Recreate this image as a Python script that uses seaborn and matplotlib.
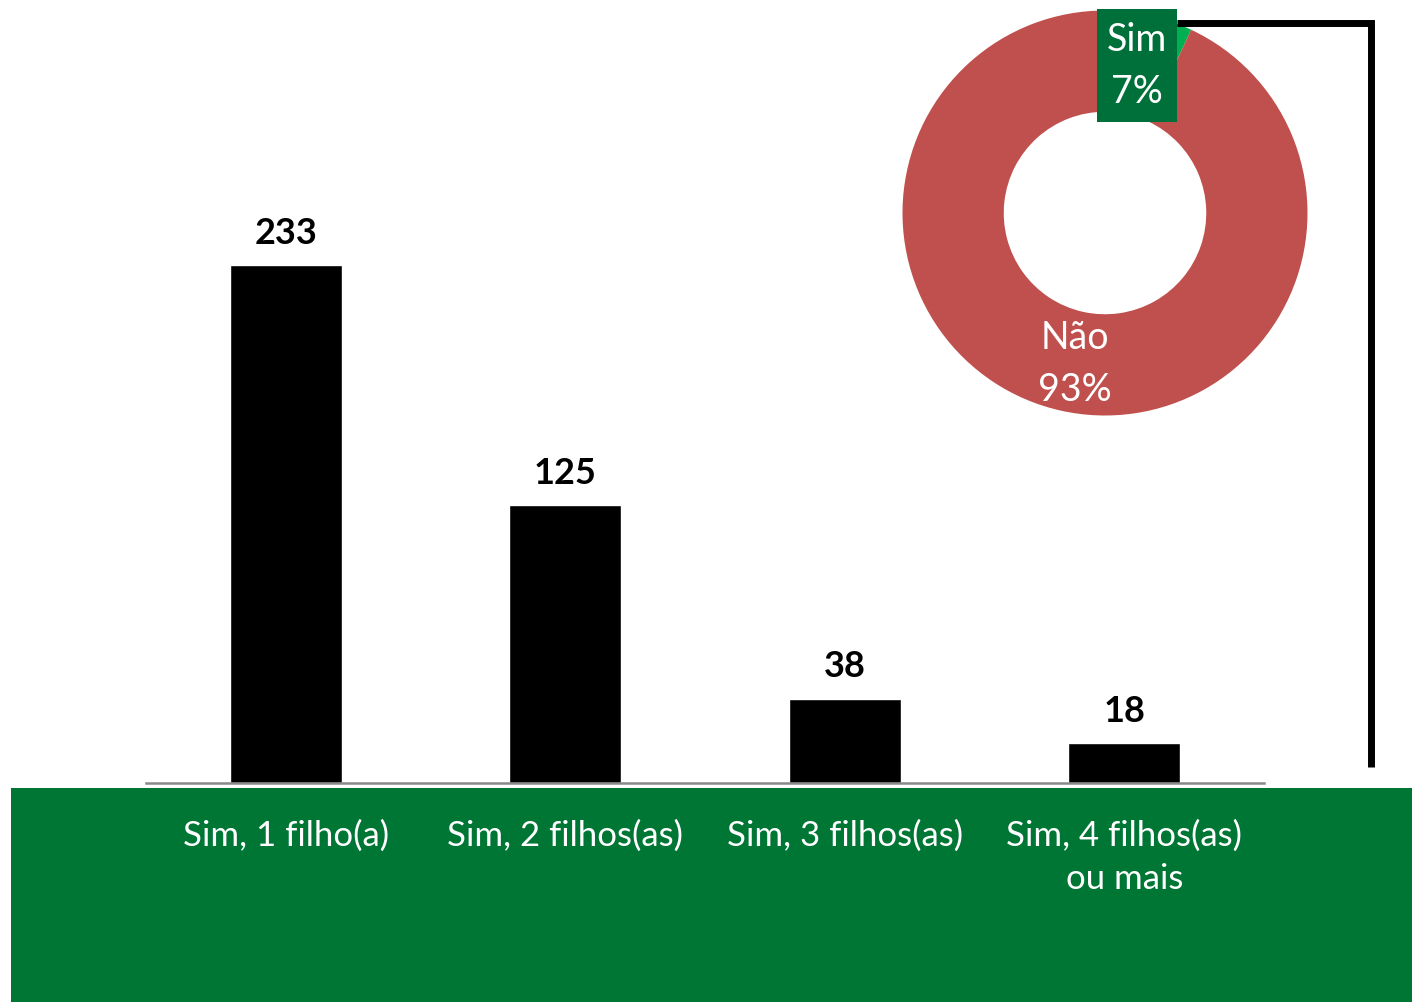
import matplotlib
matplotlib.use("Agg")
import matplotlib.pyplot as plt
import seaborn as sns
import pandas as pd
from matplotlib.patches import Rectangle
from matplotlib.lines import Line2D

categories = ["Sim, 1 filho(a)", "Sim, 2 filhos(as)", "Sim, 3 filhos(as)", "Sim, 4 filhos(as)\nou mais"]
counts = [233, 125, 38, 18]
pie_labels = ["Sim", "Não"]
pie_values = [7, 93]

W, H = 1412, 1002
sns.set_theme(style="white")
plt.rcParams['font.family'] = ['Lato', 'DejaVu Sans']

fig = plt.figure(figsize=(W / 100, H / 100), dpi=100)
fig.patch.set_facecolor("white")

def fx(px):
    return px / W

def fy(py):
    return 1 - py / H

# green band (behind the axes)
fig.patches.append(Rectangle((fx(11), 0), fx(W) - fx(11), fy(788), transform=fig.transFigure,
                             facecolor="#007635", edgecolor="none", zorder=-5))

# bar chart
ax = fig.add_axes([fx(146), fy(783), fx(1264) - fx(146), fy(117) - fy(783)])
ax.set_facecolor("none")
ax.set_zorder(1)
df = pd.DataFrame({"cat": categories, "n": counts})
sns.barplot(data=df, x="cat", y="n", color="black", width=0.4, ax=ax, saturation=1)
ax.set_xlim(-0.5, 3.5)
ax.set_ylim(0, (783 - 117) / 2.223)
for i, v in enumerate(counts):
    ax.annotate(str(v), (i, v), xytext=(0, 11), textcoords="offset points",
                ha="center", va="bottom", fontsize=26, fontweight="bold", color="black")
ax.set_xlabel("")
ax.set_ylabel("")
ax.set_yticks([])
ax.set_xticks(range(len(categories)))
ax.set_xticklabels(categories, color="white", fontsize=25, linespacing=1.46, va="top")
ax.tick_params(axis="x", length=0, pad=26)
for s in ["top", "right", "left"]:
    ax.spines[s].set_visible(False)
ax.spines["bottom"].set_color("#898989")
ax.spines["bottom"].set_linewidth(1.8)

# donut
axp = fig.add_axes([fx(902.5), fy(415.5), fx(405), (405) / H])
axp.pie(pie_values, colors=["#00B050", "#C0504D"], startangle=90, counterclock=False,
        wedgeprops=dict(width=0.5, edgecolor="none"), radius=1)
axp.set_xlim(-1, 1)
axp.set_ylim(-1, 1)
axp.axis("off")

# Não label
axp.text(-0.148, -0.746, f"{pie_labels[1]}\n{pie_values[1]}%", ha="center", va="center",
         color="white", fontsize=27, linespacing=1.55)

# bracket line
fig.lines.append(Line2D([fx(1177), fx(1371), fx(1371)], [fy(23), fy(23), fy(767)],
                        transform=fig.transFigure, color="black", linewidth=5,
                        solid_joinstyle="miter", solid_capstyle="butt", zorder=5))

# Sim label box
fig.patches.append(Rectangle((fx(1097), fy(122)), fx(80), 113 / H, transform=fig.transFigure,
                             facecolor="#00703A", edgecolor="none", zorder=6))
fig.text(fx(1137), fy(66), f"{pie_labels[0]}\n{pie_values[0]}%", ha="center", va="center",
         color="white", fontsize=27, linespacing=1.55, zorder=7)

fig.savefig("out.png", dpi=100)
